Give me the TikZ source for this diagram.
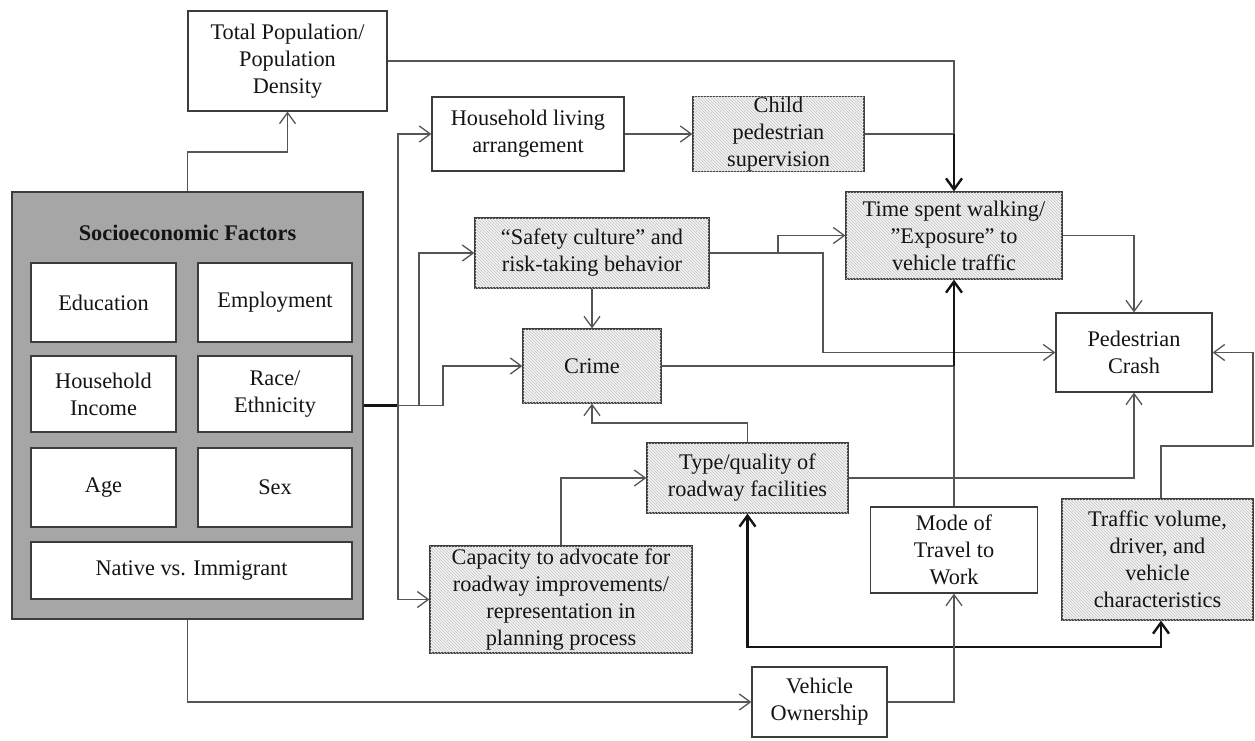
\documentclass[tikz,border=0pt]{standalone}
\usepackage{fontspec}
\setmainfont{Liberation Serif}
\usetikzlibrary{arrows.meta,patterns}
\definecolor{edge}{HTML}{3C3C3C}
\definecolor{wire}{HTML}{555555}
\definecolor{panel}{HTML}{A6A6A6}
\definecolor{shade}{HTML}{F2F2F2}
\definecolor{hatch}{HTML}{C6C6C6}
\definecolor{ink}{HTML}{141414}
\begin{document}
\begin{tikzpicture}[x=1pt,y=-1pt,
  font=\fontsize{22.3}{27}\selectfont,
  every node/.style={inner sep=0pt, align=center, text=ink},
  plainbox/.style={draw=edge, line width=1.2pt, fill=white},
  hatchbox/.style={draw=edge, line width=1.2pt, fill=shade,
    postaction={pattern=north west lines, pattern color=hatch}},
  wire/.style={draw=wire, line width=1.3pt},
  conn/.style={wire, -{Straight Barb[length=11pt,width=16pt]}},
  boldwire/.style={draw=ink, line width=2.4pt},
  boldarrow/.style={boldwire, -{Straight Barb[length=11pt,width=16pt]}},
  boldboth/.style={boldwire, {Straight Barb[length=11pt,width=16pt]}-{Straight Barb[length=11pt,width=16pt]}}
]
\useasboundingbox (0,0) rectangle (1255,740);

% socioeconomic panel
\node[draw=edge, line width=1.2pt, fill=panel, minimum width=351pt, minimum height=427pt] (socio) at (187.5,405.5) {};
\node[font=\fontsize{22.3}{27}\selectfont\bfseries] (title) at (187.5,233) {Socioeconomic Factors};
\node[plainbox, minimum width=145pt, minimum height=79pt] (edu) at (103.5,302.5) {Education};
\node[plainbox, minimum width=154pt, minimum height=79pt] (emp) at (275,302.5) {Employment};
\node[plainbox, minimum width=145pt, minimum height=76pt] (hin) at (103.5,394) {Household\\Income};
\node[plainbox, minimum width=154pt, minimum height=76pt] (race) at (275,394) {Race/\\Ethnicity};
\node[plainbox, minimum width=145pt, minimum height=79pt] (age) at (103.5,487.5) {Age};
\node[plainbox, minimum width=154pt, minimum height=79pt] (sex) at (275,487.5) {Sex};
\node[plainbox, minimum width=321pt, minimum height=57pt] (native) at (191.5,570.5) {Native vs. Immigrant};

% factor boxes
\node[plainbox, minimum width=199pt, minimum height=100pt] (tp) at (287.5,61) {Total Population/\\Population\\Density};
\node[plainbox, minimum width=192pt, minimum height=74pt] (hla) at (528,134) {Household living\\arrangement};
\node[hatchbox, minimum width=171pt, minimum height=74pt] (cps) at (778.5,134) {Child\\pedestrian\\supervision};
\node[hatchbox, minimum width=216pt, minimum height=87pt] (ts) at (954,235.5) {Time spent walking/\\”Exposure” to\\vehicle traffic};
\node[hatchbox, minimum width=234pt, minimum height=70pt] (safety) at (592,253) {“Safety culture” and\\risk-taking behavior};
\node[hatchbox, minimum width=138pt, minimum height=74pt] (crime) at (592,366) {Crime};
\node[plainbox, minimum width=156pt, minimum height=79pt] (pc) at (1134,352.5) {Pedestrian\\Crash};
\node[hatchbox, minimum width=201pt, minimum height=70pt] (type) at (747.5,478) {Type/quality of\\roadway facilities};
\node[hatchbox, minimum width=262pt, minimum height=107pt] (cap) at (561,599.5) {Capacity to advocate for\\roadway improvements/\\representation in\\planning process};
\node[plainbox, minimum width=167pt, minimum height=86pt] (mode) at (954,550) {Mode of\\Travel to\\Work};
\node[hatchbox, minimum width=191pt, minimum height=121pt] (traffic) at (1157.5,559.5) {Traffic volume,\\driver, and\\vehicle\\characteristics};
\node[plainbox, minimum width=135pt, minimum height=70pt] (vo) at (819.5,702) {Vehicle\\Ownership};

% junction points
\coordinate (hubA) at (398,405.5);
\coordinate (hubB) at (419,405.5);
\coordinate (hubC) at (443,405.5);
\coordinate (j1) at (954,134);
\coordinate (j2) at (778,253);
\coordinate (j3) at (954,366);
\coordinate (tq) at ([xshift=3.5pt]traffic.north);
\coordinate (tb) at ([xshift=3.5pt]traffic.south);

% connectors
\draw[boldwire] (socio.east) -- (hubA);
\draw[conn] (hubA) |- (hla.west);
\draw[conn] (hubA) |- (cap.west);
\draw[conn] (hubA) -- (hubB) |- (safety.west);
\draw[conn] (hubB) -- (hubC) |- (crime.west);
\draw[conn] (socio.north) |- (287.5,152) -- (tp.south);
\draw[conn] (socio.south) |- (vo.west);
\draw[wire] (tp.east) -| (j1);
\draw[wire] (cps.east) -- (j1);
\draw[boldarrow] (j1) -- (ts.north);
\draw[conn] (hla.east) -- (cps.west);
\draw[conn] (safety.south) -- (crime.north);
\draw[conn] (safety.east) -- (823,253) |- (pc.west);
\draw[conn] (j2) |- (ts.west);
\draw[conn] (ts.east) -| (pc.north);
\draw[wire] (crime.east) -- (j3);
\draw[wire] (mode.north) -- (j3);
\draw[boldarrow] (j3) -- (ts.south);
\draw[conn] (type.north) -- (747.5,423) -| (crime.south);
\draw[conn] (cap.north) |- (type.west);
\draw[conn] (type.east) -| (pc.south);
\draw[conn] (tq) |- (1253,446) |- (pc.east);
\draw[boldboth] (type.south) -- (747.5,647) -| (tb);
\draw[conn] (vo.east) -| (mode.south);
\end{tikzpicture}
\end{document}
